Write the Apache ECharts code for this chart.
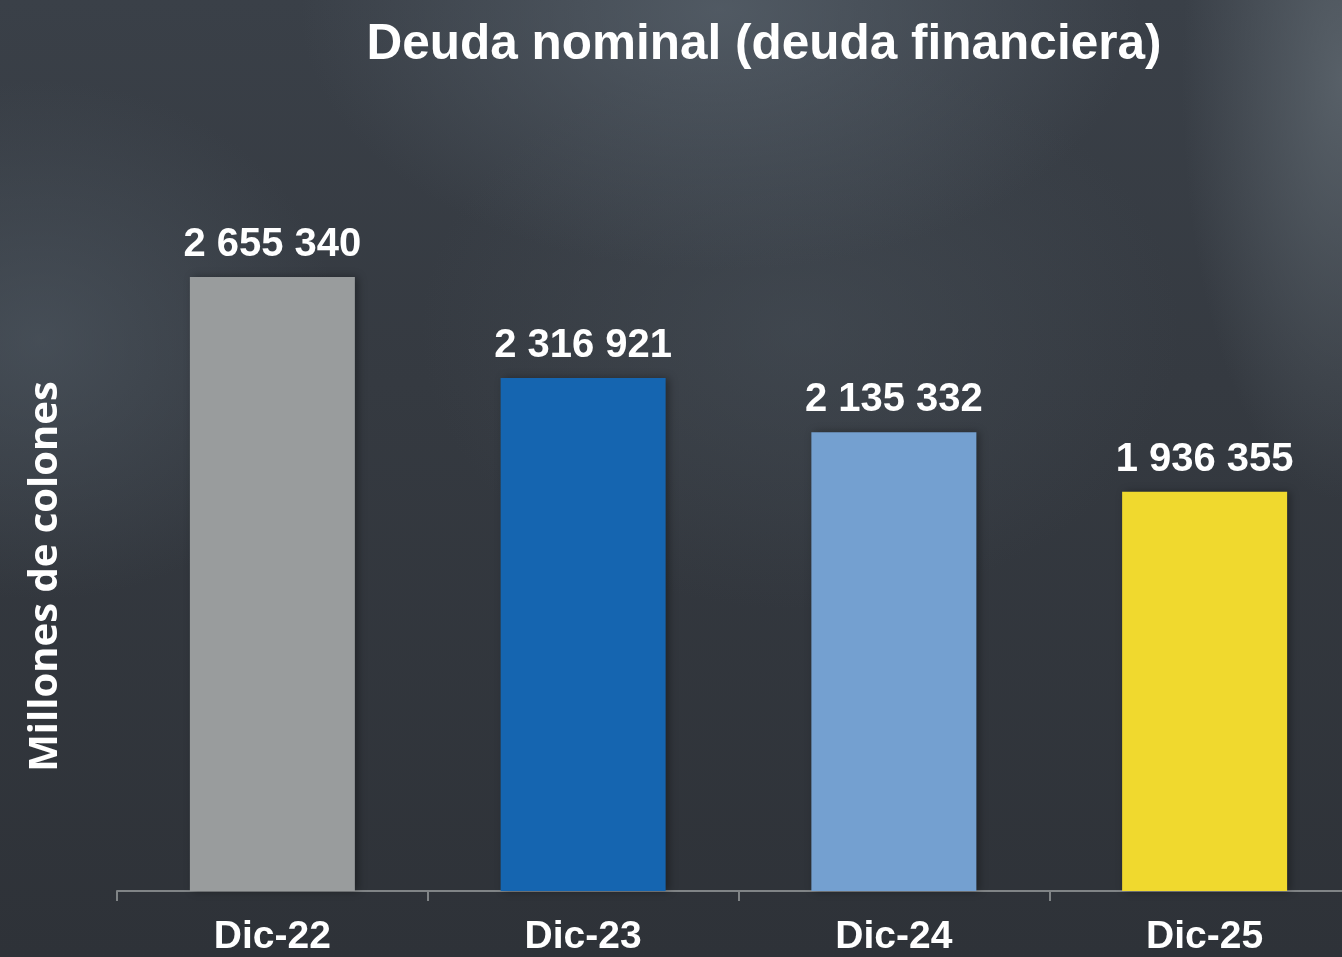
<!DOCTYPE html>
<html>
<head>
<meta charset="utf-8">
<title>Deuda nominal</title>
<script src="https://cdn.jsdelivr.net/npm/echarts@6/dist/echarts.min.js"></script>
<style>
  html, body { margin: 0; padding: 0; }
  body {
    width: 1342px; height: 957px; overflow: hidden;
    background:
      radial-gradient(ellipse 420px 260px at 720px 10px, rgba(88,98,108,0.75), rgba(88,98,108,0) 100%),
      radial-gradient(ellipse 160px 420px at 1342px 80px, rgba(95,104,112,0.8), rgba(95,104,112,0) 100%),
      radial-gradient(ellipse 300px 260px at 40px 340px, rgba(80,90,100,0.6), rgba(80,90,100,0) 100%),
      radial-gradient(ellipse 380px 280px at 800px 330px, rgba(75,84,93,0.45), rgba(75,84,93,0) 100%),
      linear-gradient(180deg, #3a4048 0%, #353a41 40%, #2e3238 100%);
  }
  /* el eje continua mas alla del borde derecho */
  #main { width: 1360px; height: 957px; }
</style>
</head>
<body>
<div id="main"></div>
<script>
// categorias y valores (millones de colones)
const categories = ['Dic-22', 'Dic-23', 'Dic-24', 'Dic-25'];
const deuda = [2655340, 2316921, 2135332, 1936355];
const barColors = ['#999c9d', '#1565b0', '#74a0d0', '#f0d92e'];

const FONT = '"Liberation Sans", Arial, sans-serif';

// separador de miles con espacio
function fmt(v) {
    return String(v).replace(/\B(?=(\d{3})+(?!\d))/g, ' ');
}

const chart = echarts.init(document.getElementById('main'));

const option = {
    backgroundColor: 'transparent',
    animation: false,
    title: {
        text: 'Deuda nominal (deuda financiera)',
        left: 759,
        textAlign: 'center',
        top: 15,
        textStyle: { color: '#ffffff', fontFamily: FONT, fontWeight: 'bold', fontSize: 49.5 }
    },
    grid: { left: 117, right: 0, top: 174, bottom: 64 },
    xAxis: {
        type: 'category',
        data: categories,
        axisLine: { lineStyle: { color: '#808486', width: 2 } },
        axisTick: { show: true, length: 10, lineStyle: { color: '#808486', width: 2 } },
        axisLabel: {
            color: '#ffffff', fontFamily: FONT, fontWeight: 'bold', fontSize: 39, margin: 27
        }
    },
    yAxis: {
        type: 'value',
        min: 600000,
        max: 3000000,
        axisLine: { show: false },
        axisTick: { show: false },
        axisLabel: { show: false },
        splitLine: { show: false },
        name: 'Millones de colones',
        nameLocation: 'middle',
        nameGap: 51,
        nameTextStyle: {
            color: '#ffffff', fontFamily: '"Open Sans", sans-serif', fontWeight: 'bold', fontSize: 40,
            padding: [0, 88, 0, 0]
        }
    },
    series: [{
        type: 'bar',
        barWidth: 165,
        data: deuda.map((v, i) => ({ value: v, itemStyle: { color: barColors[i] } })),
        itemStyle: {
            shadowBlur: 8,
            shadowColor: 'rgba(0,0,0,0.35)',
            shadowOffsetX: 3,
            shadowOffsetY: 0
        },
        label: {
            show: true,
            position: 'top',
            distance: 12,
            color: '#ffffff',
            fontFamily: FONT,
            fontWeight: 'bold',
            fontSize: 40,
            formatter: p => fmt(p.value)
        }
    }]
};

chart.setOption(option);
</script>
</body>
</html>
